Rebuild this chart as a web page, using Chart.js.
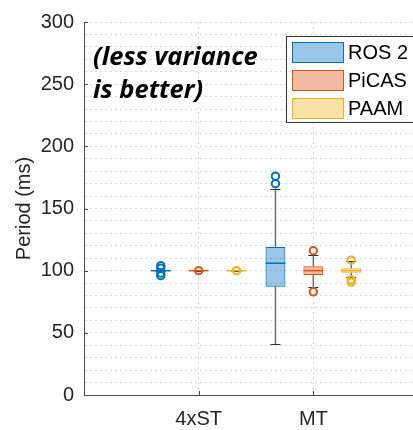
<!DOCTYPE html>
<html>
<head>
<meta charset="utf-8">
<script src="https://cdn.jsdelivr.net/npm/chart.js@4.4.1/dist/chart.umd.min.js"></script>
<style>
  html, body { margin: 0; padding: 0; background: #fff; overflow: hidden; }
  #wrap { width: 440px; height: 430px; }
</style>
</head>
<body>
<div id="wrap"><canvas id="c"></canvas></div>
<script>
// categories and series
const categories = ['4xST', 'MT'];
const seriesNames = ['ROS 2', 'PiCAS', 'PAAM'];

// box statistics, one entry per category [4xST, MT]
const ros2Q1 = [99.6, 87];
const ros2Median = [100, 106];
const ros2Q3 = [100.4, 119];
const ros2Low = [99.5, 41];
const ros2High = [100.5, 166];
const ros2Outliers = [[104, 102, 98, 96], [170, 176]];

const picasQ1 = [99.7, 96.5];
const picasMedian = [100, 100];
const picasQ3 = [100.3, 103.5];
const picasLow = [99.6, 87];
const picasHigh = [100.4, 113];
const picasOutliers = [[100], [116, 83]];

const paamQ1 = [99.7, 98.3];
const paamMedian = [100, 100];
const paamQ3 = [100.3, 102];
const paamLow = [99.6, 95];
const paamHigh = [100.4, 107.5];
const paamOutliers = [[100], [108.5, 92.6, 90.8]];

// y ticks: minor grid every 10, labels every 50
const yTicks = [0, 10, 20, 30, 40, 50, 60, 70, 80, 90, 100, 110, 120, 130, 140, 150,
  160, 170, 180, 190, 200, 210, 220, 230, 240, 250, 260, 270, 280, 290, 300];
const yTickLabels = [0, 50, 100, 150, 200, 250, 300];

const edgeColors = ['#0072BD', '#D95319', '#EDB120'];
const fillColors = ['rgba(0,114,189,0.4)', 'rgba(217,83,25,0.4)', 'rgba(237,177,32,0.4)'];

const stats = [
  { q1: ros2Q1, med: ros2Median, q3: ros2Q3, lo: ros2Low, hi: ros2High, out: ros2Outliers },
  { q1: picasQ1, med: picasMedian, q3: picasQ3, lo: picasLow, hi: picasHigh, out: picasOutliers },
  { q1: paamQ1, med: paamMedian, q3: paamQ3, lo: paamLow, hi: paamHigh, out: paamOutliers }
];

Chart.defaults.font.family = "'Liberation Sans', Arial, sans-serif";
Chart.defaults.font.size = 20;
Chart.defaults.color = '#262626';

// whiskers, medians, outliers, inward ticks, legend and note
const boxPlugin = {
  id: 'boxExtras',
  afterDatasetsDraw(chart) {
    const ctx = chart.ctx;
    const y = chart.scales.y;
    const x = chart.scales.x;
    const area = chart.chartArea;
    ctx.save();
    stats.forEach((s, d) => {
      const meta = chart.getDatasetMeta(d);
      categories.forEach((_, i) => {
        const el = meta.data[i + 1];
        if (!el) return;
        const cx = el.x;
        const half = el.width / 2;
        // whiskers
        ctx.strokeStyle = '#6e6e6e';
        ctx.lineWidth = 1.5;
        ctx.beginPath();
        ctx.moveTo(cx, y.getPixelForValue(s.q3[i]));
        ctx.lineTo(cx, y.getPixelForValue(s.hi[i]));
        ctx.moveTo(cx, y.getPixelForValue(s.q1[i]));
        ctx.lineTo(cx, y.getPixelForValue(s.lo[i]));
        ctx.stroke();
        // caps
        ctx.strokeStyle = '#333';
        ctx.lineWidth = 1;
        ctx.beginPath();
        [s.hi[i], s.lo[i]].forEach(v => {
          const py = Math.round(y.getPixelForValue(v)) + 0.5;
          ctx.moveTo(cx - half / 2, py);
          ctx.lineTo(cx + half / 2, py);
        });
        ctx.stroke();
        // median
        ctx.strokeStyle = edgeColors[d];
        ctx.lineWidth = 1.5;
        ctx.beginPath();
        const my = y.getPixelForValue(s.med[i]);
        ctx.moveTo(cx - half, my);
        ctx.lineTo(cx + half, my);
        ctx.stroke();
        // outliers
        ctx.lineWidth = 2;
        s.out[i].forEach(v => {
          ctx.beginPath();
          ctx.arc(cx, y.getPixelForValue(v), 3.7, 0, Math.PI * 2);
          ctx.stroke();
        });
      });
    });

    // inward tick marks
    ctx.strokeStyle = '#4d4d4d';
    ctx.lineWidth = 1;
    ctx.beginPath();
    yTickLabels.forEach(v => {
      const py = Math.round(y.getPixelForValue(v)) + 0.5;
      ctx.moveTo(area.left, py);
      ctx.lineTo(area.left + 4, py);
    });
    categories.forEach((_, i) => {
      const px = Math.round(x.getPixelForValue(i + 1)) + 0.5;
      ctx.moveTo(px, area.bottom);
      ctx.lineTo(px, area.bottom - 4);
    });
    ctx.stroke();

    // note
    ctx.fillStyle = '#000';
    ctx.font = "italic bold 25.5px 'Open Sans', Lato, sans-serif";
    ctx.textBaseline = 'alphabetic';
    ctx.textAlign = 'left';
    ctx.fillText('(less variance', area.left + 9, area.top + 43);
    ctx.fillText('is better)', area.left + 9, area.top + 76);

    // legend box
    const lx = area.left + 202;
    const ly = area.top + 14;
    ctx.fillStyle = '#fff';
    ctx.fillRect(lx, ly, 200, 86);
    ctx.strokeStyle = '#333';
    ctx.lineWidth = 1;
    ctx.strokeRect(lx + 0.5, ly + 0.5, 200, 86);
    seriesNames.forEach((name, k) => {
      const sy = ly + 6 + k * 28;
      ctx.fillStyle = fillColors[k];
      ctx.fillRect(lx + 6, sy, 52, 21);
      ctx.strokeStyle = edgeColors[k];
      ctx.strokeRect(lx + 6.5, sy + 0.5, 51, 20);
      ctx.fillStyle = '#000';
      ctx.font = "20px 'Liberation Sans', Arial, sans-serif";
      ctx.textBaseline = 'middle';
      ctx.fillText(name, lx + 62, sy + 11);
    });
    ctx.restore();
  }
};

const gridStyle = { color: '#d9d9d9', lineWidth: 1, drawTicks: false, offset: false };
const borderStyle = { color: '#4d4d4d', width: 1, dash: [2, 3] };

new Chart(document.getElementById('c'), {
  type: 'bar',
  data: {
    labels: ['', ...categories, ''],
    datasets: seriesNames.map((name, k) => ({
      label: name,
      data: [null, ...categories.map((_, i) => [stats[k].q1[i], stats[k].q3[i]]), null],
      backgroundColor: fillColors[k],
      borderColor: edgeColors[k],
      borderWidth: 1,
      borderSkipped: false,
      categoryPercentage: 0.991,
      barPercentage: 0.526
    }))
  },
  options: {
    responsive: true,
    maintainAspectRatio: false,
    animation: false,
    events: [],
    layout: { padding: { top: 17, right: 11, left: 0, bottom: 0 } },
    plugins: { legend: { display: false }, tooltip: { enabled: false } },
    scales: {
      x: {
        offset: false,
        grid: gridStyle,
        border: borderStyle,
        ticks: { padding: 12, autoSkip: false, maxRotation: 0 },
        afterFit: s => { s.height = 35; }
      },
      y: {
        min: 0,
        max: 300,
        grid: gridStyle,
        border: borderStyle,
        afterBuildTicks: s => { s.ticks = yTicks.map(v => ({ value: v })); },
        ticks: {
          autoSkip: false,
          padding: 10,
          callback: v => (yTickLabels.includes(v) ? v : '')
        },
        title: { display: true, text: 'Period (ms)', padding: { top: 12, bottom: 0 } },
        afterFit: s => { s.width = 84; }
      }
    }
  },
  plugins: [boxPlugin]
});
</script>
</body>
</html>
